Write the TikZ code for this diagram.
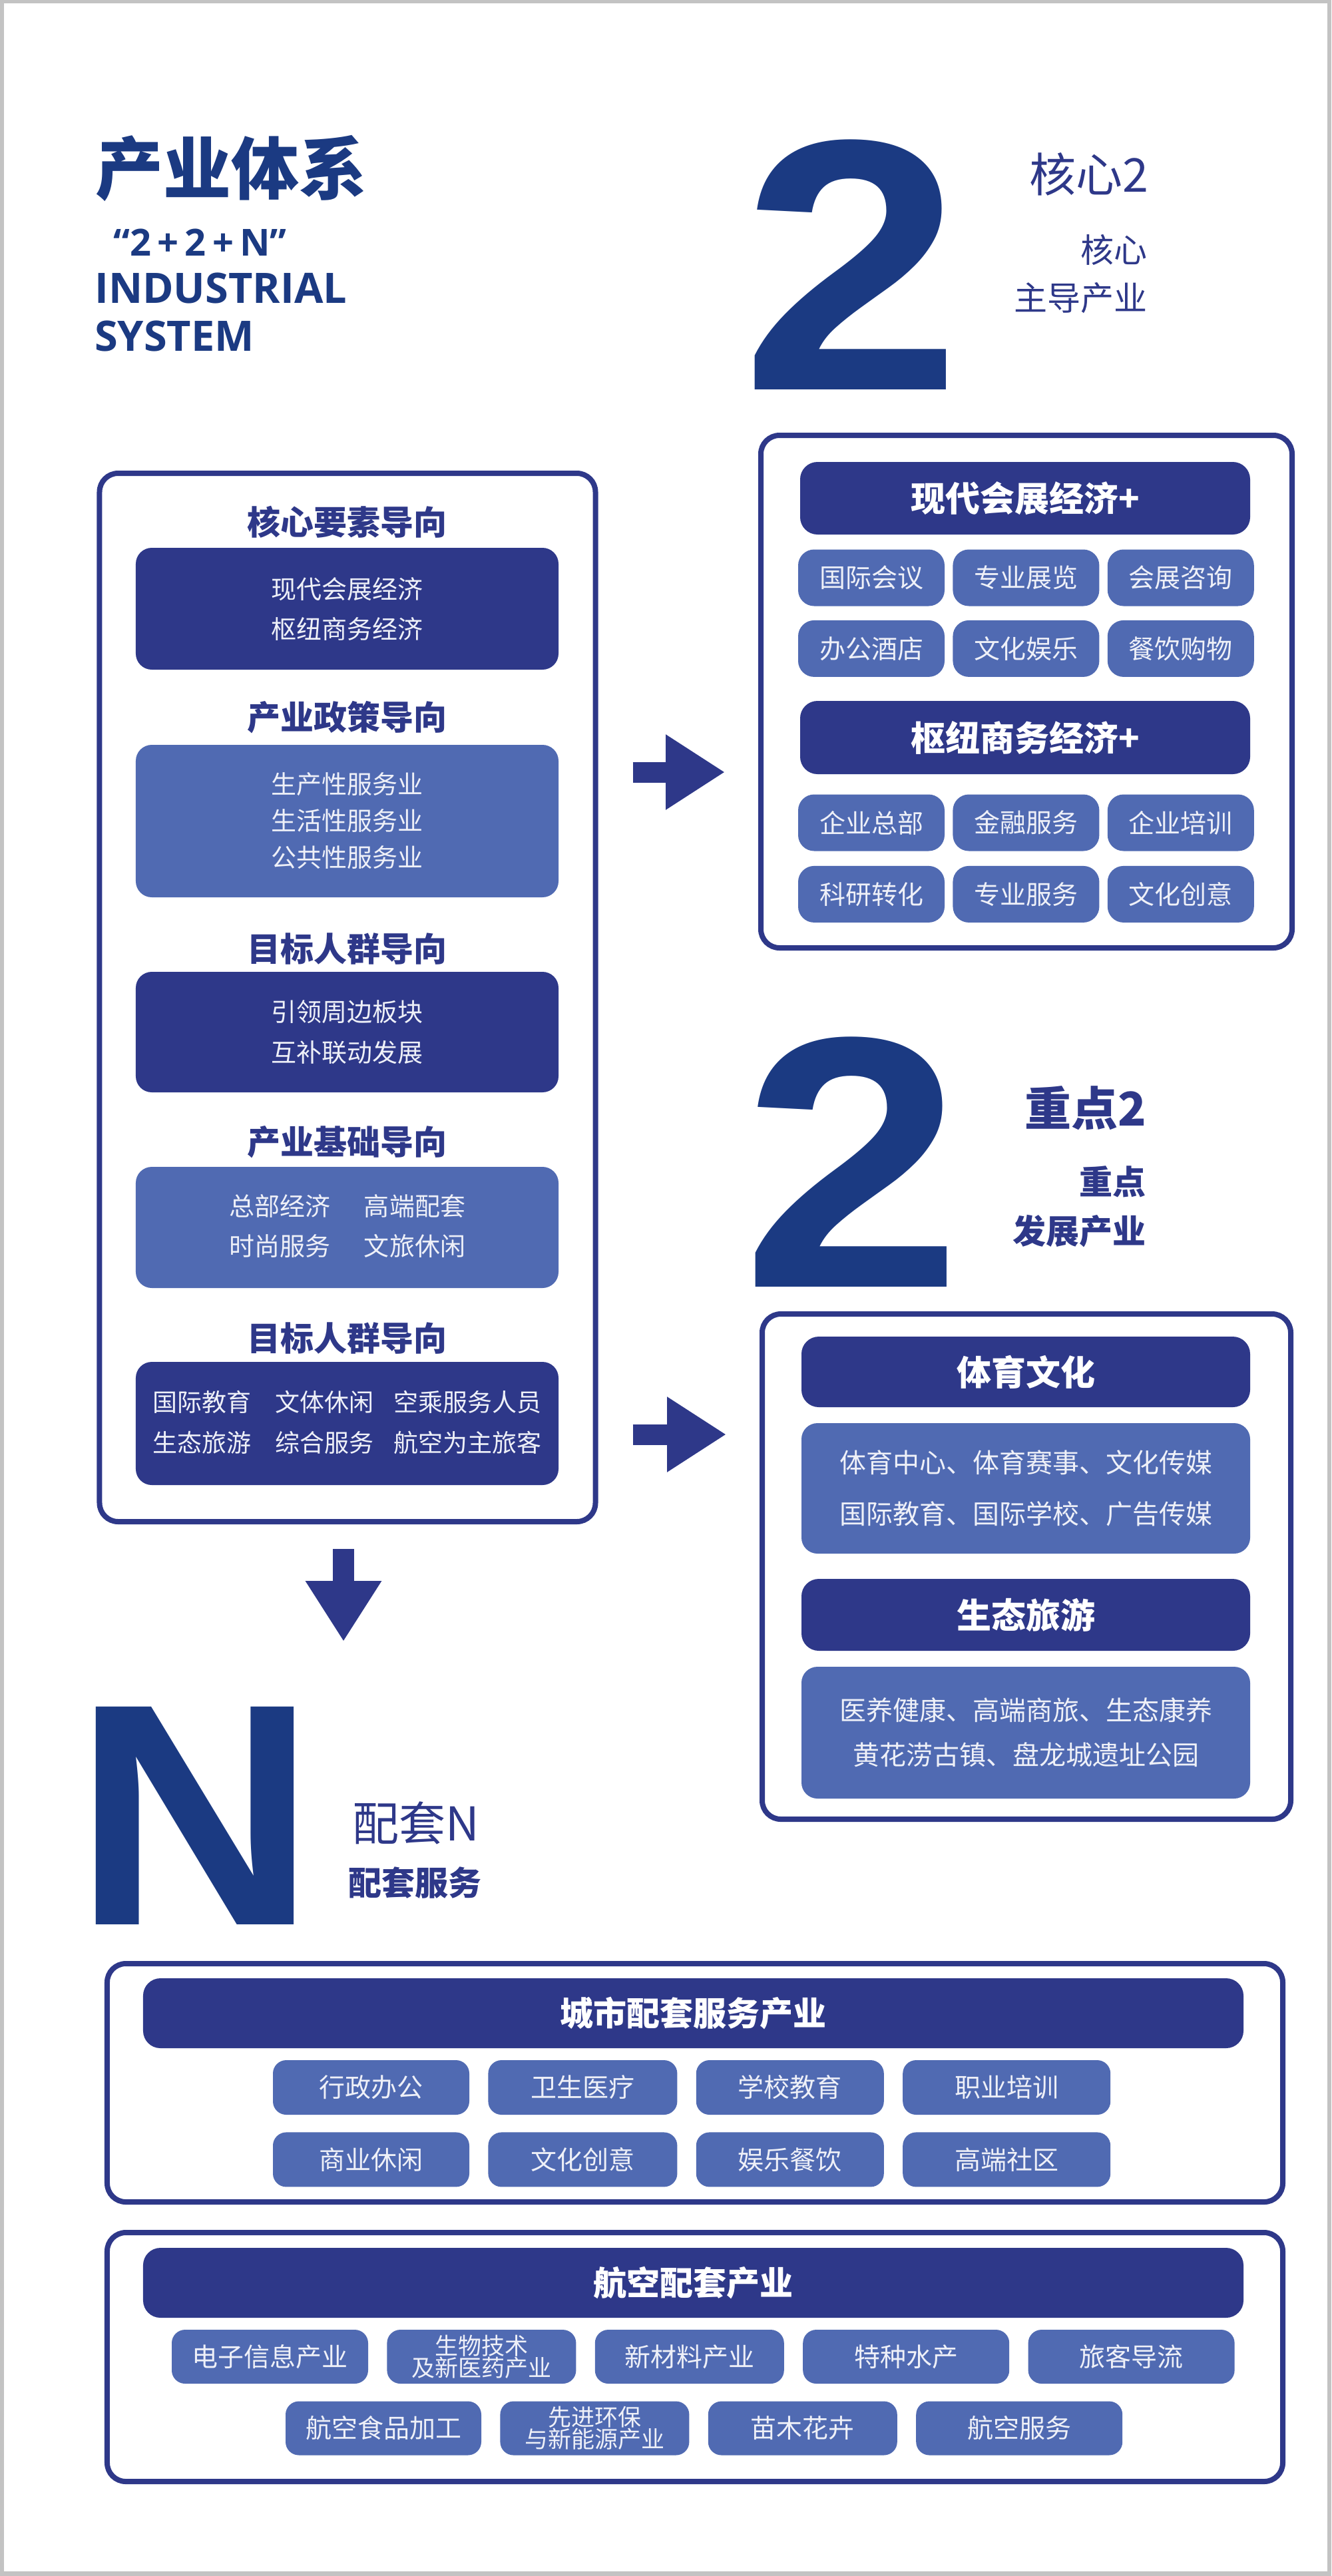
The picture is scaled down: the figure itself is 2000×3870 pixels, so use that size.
\documentclass[tikz,border=0pt]{standalone}
\usepackage{fontspec}
\usepackage{graphicx}
\setmainfont{Noto Sans CJK SC}
\newfontfamily\latinfont{Open Sans}
\newfontfamily\glyphfont{Liberation Sans}
\usetikzlibrary{positioning,arrows.meta}
\definecolor{navy}{HTML}{1B3A82}
\definecolor{deepblue}{HTML}{2E3889}
\definecolor{softblue}{HTML}{506AB2}
\definecolor{paleink}{HTML}{EEF0F8}
\definecolor{edgegray}{HTML}{C3C3C3}
\newcommand{\fsz}[2]{\fontsize{#1bp}{#2bp}\selectfont}

\begin{document}
\begin{tikzpicture}[x=1bp,y=-1bp,
    outerbox/.style={draw=deepblue,line width=8bp,rounded corners=28bp,inner sep=0pt},
    darkbox/.style={fill=deepblue,rounded corners=24bp,text=paleink,inner sep=0pt,align=center,font=\fsz{38}{60}},
    lightbox/.style={fill=softblue,rounded corners=24bp,text=paleink,inner sep=0pt,align=center,font=\fsz{38}{55}},
    headbar/.style={fill=deepblue,rounded corners=26bp,text=white,inner sep=0pt,font=\bfseries\fsz{52}{60}},
    cell/.style={fill=softblue,rounded corners=24bp,text=paleink,inner sep=0pt,minimum width=220bp,minimum height=85bp,font=\fsz{39}{46}},
    tile/.style={fill=softblue,rounded corners=20bp,text=paleink,inner sep=0pt,align=center,minimum height=82bp,font=\fsz{39}{46}},
    guidehead/.style={text=deepblue,inner sep=0pt,font=\bfseries\fsz{50}{60}},
    sidetag/.style={text=deepblue,inner sep=0pt},
    bigarrow/.style={draw=deepblue,line width=31bp,-{Triangle[length=89bp,width=107bp]}}]
        \useasboundingbox (0,0) rectangle (2000,3870);
        \fill[edgegray] (0,0) rectangle (2000,3870);
        \fill[white] (6,5) rectangle (1994,3863);

        % title
        \node[anchor=west,text=navy,inner sep=0pt,font=\bfseries\fsz{102}{110}] (title) at (143,253) {产业体系};
        \node[anchor=west,text=navy,inner sep=0pt,font=\latinfont\bfseries\fsz{56}{64}] (formula) at (170,364) {“2\,+\,2\,+\,N”};
        \node[anchor=west,text=navy,inner sep=0pt,font=\latinfont\bfseries\fsz{63}{70}] (eng1) at (142,433) {INDUSTRIAL};
        \node[anchor=west,text=navy,inner sep=0pt,font=\latinfont\bfseries\fsz{63}{70}] (eng2) at (142,505) {SYSTEM};

        % core 2
        \node[anchor=north west,inner sep=0pt,text=navy] (twoA) at (1113,210) {\resizebox{330bp}{375bp}{\glyphfont\bfseries 2}};
        \node[sidetag,anchor=east,font=\fsz{70}{80}] (core2) at (1726,262) {核心2};
        \node[sidetag,anchor=east,font=\fsz{50}{60}] (coretag) at (1724,375) {核心};
        \node[sidetag,anchor=east,font=\fsz{50}{60}] (coretagb) at (1724,448) {主导产业};

        % left column
        \node[outerbox,minimum width=745bp,minimum height=1575bp] (guide) at (522,1498.5) {};
        \node[guidehead] (g1) at (521,784) {核心要素导向};
        \node[darkbox,minimum width=635bp,minimum height=183bp] (b1) at (521.5,914.5) {现代会展经济\\枢纽商务经济};
        \node[guidehead] (g2) at (521,1078) {产业政策导向};
        \node[lightbox,minimum width=635bp,minimum height=229bp] (b2) at (521.5,1233.5) {生产性服务业\\生活性服务业\\公共性服务业};
        \node[guidehead] (g3) at (521,1425) {目标人群导向};
        \node[darkbox,minimum width=635bp,minimum height=181bp,font=\fsz{38}{61}] (b3) at (521.5,1550.5) {引领周边板块\\互补联动发展};
        \node[guidehead] (g4) at (521,1716) {产业基础导向};
        \node[lightbox,minimum width=635bp,minimum height=182bp,font=\fsz{38}{60}] (b4) at (521.5,1844) {\begin{tabular}{@{}l@{\hspace{51bp}}l@{}}总部经济&高端配套\\时尚服务&文旅休闲\end{tabular}};
        \node[guidehead] (g5) at (521,2010) {目标人群导向};
        \node[darkbox,minimum width=635bp,minimum height=185bp,font=\fsz{37}{61}] (b5) at (521.5,2138.5) {\begin{tabular}{@{}l@{\hspace{36bp}}l@{\hspace{30bp}}l@{}}国际教育&文体休闲&空乘服务人员\\生态旅游&综合服务&航空为主旅客\end{tabular}};

        % core box
        \node[outerbox,minimum width=798bp,minimum height=770bp] (core) at (1542,1039) {};
        \node[headbar,minimum width=676bp,minimum height=109bp] (expo) at (1540,748.5) {现代会展经济+};
        \node[cell] (c11) at (1309,868) {国际会议};
        \node[cell,right=12bp of c11] (c12) {专业展览};
        \node[cell,right=12bp of c12] (c13) {会展咨询};
        \node[cell,below=21bp of c11] (c21) {办公酒店};
        \node[cell,right=12bp of c21] (c22) {文化娱乐};
        \node[cell,right=12bp of c22] (c23) {餐饮购物};
        \node[headbar,minimum width=676bp,minimum height=110bp] (hub) at (1540,1108) {枢纽商务经济+};
        \node[cell] (c31) at (1309,1236) {企业总部};
        \node[cell,right=12bp of c31] (c32) {金融服务};
        \node[cell,right=12bp of c32] (c33) {企业培训};
        \node[cell,below=22bp of c31] (c41) {科研转化};
        \node[cell,right=12bp of c41] (c42) {专业服务};
        \node[cell,right=12bp of c42] (c43) {文化创意};

        % key 2
        \node[anchor=north west,inner sep=0pt,text=navy] (twoB) at (1114,1558) {\resizebox{330bp}{375bp}{\glyphfont\bfseries 2}};
        \node[sidetag,anchor=east,font=\bfseries\fsz{70}{80}] (key2) at (1722,1665) {重点2};
        \node[sidetag,anchor=east,font=\bfseries\fsz{50}{60}] (keytag) at (1722,1775) {重点};
        \node[sidetag,anchor=east,font=\bfseries\fsz{50}{60}] (keytagb) at (1722,1850) {发展产业};

        \node[outerbox,minimum width=794bp,minimum height=759bp] (focus) at (1542,2353.5) {};
        \node[headbar,minimum width=674bp,minimum height=106bp] (sport) at (1541,2061) {体育文化};
        \node[lightbox,minimum width=674bp,minimum height=196bp,font=\fsz{40}{77}] (sportx) at (1541,2236) {体育中心、体育赛事、文化传媒\\国际教育、国际学校、广告传媒};
        \node[headbar,minimum width=674bp,minimum height=108bp] (eco) at (1541,2426) {生态旅游};
        \node[lightbox,minimum width=674bp,minimum height=198bp,font=\fsz{40}{67}] (ecox) at (1541,2603) {医养健康、高端商旅、生态康养\\黄花涝古镇、盘龙城遗址公园};

        % arrows
        \coordinate (toCore) at (1089,1160);
        \coordinate (toFocus) at (1089,2155);
        \coordinate (toN) at (516,2466);
        \draw[bigarrow,shorten <=52bp,shorten >=50bp] (guide.east |- toCore) -- (core.west |- toCore);
        \draw[bigarrow,shorten <=52bp,shorten >=50bp] (guide.east |- toFocus) -- (focus.west |- toFocus);
        \draw[bigarrow,line width=32bp,-{Triangle[length=91bp,width=108bp]},shorten <=37bp] (guide.south -| toN) -- (toN);

        % support N
        \node[anchor=north west,inner sep=0pt,text=navy] (bigN) at (110,2564) {\resizebox{365bp}{327bp}{\glyphfont\bfseries N}};
        \node[sidetag,anchor=west,font=\fsz{70}{80}] (supN) at (529,2739) {配套N};
        \node[sidetag,anchor=west,font=\bfseries\fsz{50}{60}] (suptag) at (523,2828) {配套服务};

        \node[outerbox,minimum width=1766bp,minimum height=358bp] (city) at (1044,3129) {};
        \node[headbar,minimum width=1653bp,minimum height=105bp,font=\bfseries\fsz{50}{60}] (cityh) at (1041.5,3024.5) {城市配套服务产业};
        \node[tile,minimum width=295bp] (s1) at (557.5,3136) {行政办公};
        \node[tile,minimum width=284bp,right=28bp of s1] (s2) {卫生医疗};
        \node[tile,minimum width=282bp,right=28bp of s2] (s3) {学校教育};
        \node[tile,minimum width=312bp,right=28bp of s3] (s4) {职业培训};
        \node[tile,minimum width=295bp,below=26bp of s1] (s5) {商业休闲};
        \node[tile,minimum width=284bp,right=28bp of s5] (s6) {文化创意};
        \node[tile,minimum width=282bp,right=28bp of s6] (s7) {娱乐餐饮};
        \node[tile,minimum width=312bp,right=28bp of s7] (s8) {高端社区};

        \node[outerbox,minimum width=1766bp,minimum height=374bp] (air) at (1044,3541) {};
        \node[headbar,minimum width=1653bp,minimum height=105bp,font=\bfseries\fsz{50}{60}] (airh) at (1041.5,3429.5) {航空配套产业};
        \node[tile,minimum width=295bp,minimum height=81bp] (a1) at (405.5,3540.5) {电子信息产业};
        \node[tile,minimum width=284bp,minimum height=81bp,right=28bp of a1,font=\fsz{35}{31}] (a2) {生物技术\\及新医药产业};
        \node[tile,minimum width=284bp,minimum height=81bp,right=28bp of a2] (a3) {新材料产业};
        \node[tile,minimum width=310bp,minimum height=81bp,right=28bp of a3] (a4) {特种水产};
        \node[tile,minimum width=310bp,minimum height=81bp,right=28bp of a4] (a5) {旅客导流};
        \node[tile,minimum width=294bp,minimum height=81bp] (a6) at (576,3648) {航空食品加工};
        \node[tile,minimum width=284bp,minimum height=81bp,right=28bp of a6,font=\fsz{35}{31}] (a7) {先进环保\\与新能源产业};
        \node[tile,minimum width=284bp,minimum height=81bp,right=28bp of a7] (a8) {苗木花卉};
        \node[tile,minimum width=310bp,minimum height=81bp,right=28bp of a8] (a9) {航空服务};
    \end{tikzpicture}
\end{document}
